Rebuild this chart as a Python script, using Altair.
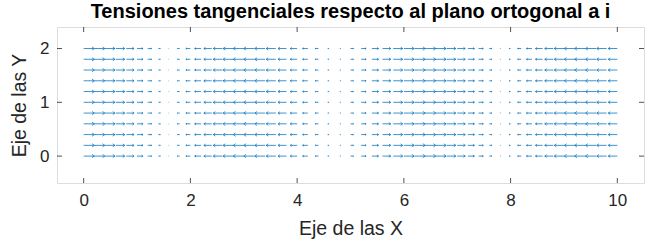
import altair as alt
import pandas as pd

# Grid of quiver tails (x columns, y rows)
x_vals = [0.0, 0.2, 0.4, 0.6, 0.8, 1.0, 1.2, 1.4, 1.6, 1.8,
          2.0, 2.2, 2.4, 2.6, 2.8, 3.0, 3.2, 3.4, 3.6, 3.8,
          4.0, 4.2, 4.4, 4.6, 4.8, 5.0, 5.2, 5.4, 5.6, 5.8,
          6.0, 6.2, 6.4, 6.6, 6.8, 7.0, 7.2, 7.4, 7.6, 7.8,
          8.0, 8.2, 8.4, 8.6, 8.8, 9.0, 9.2, 9.4, 9.6, 9.8, 10.0]
y_vals = [0.0, 0.2, 0.4, 0.6, 0.8, 1.0, 1.2, 1.4, 1.6, 1.8, 2.0]
# horizontal component of each arrow per column
u_vals = [1.00, 0.98, 0.93, 0.85, 0.72, 0.56, 0.37, 0.18, -0.03, -0.22,
          -0.42, -0.60, -0.74, -0.86, -0.94, -0.99, -1.00, -0.97, -0.90, -0.79,
          -0.65, -0.49, -0.31, -0.12, 0.08, 0.28, 0.46, 0.63, 0.77, 0.89,
          0.96, 1.00, 0.99, 0.95, 0.87, 0.75, 0.61, 0.44, 0.25, 0.05,
          -0.15, -0.34, -0.52, -0.67, -0.80, -0.91, -0.97, -1.00, -0.98, -0.93, -0.85]
x_ticks = [0, 2, 4, 6, 8, 10]
y_ticks = [0, 1, 2]

title_text = "Tensiones tangenciales respecto al plano ortogonal a i"
x_title = "Eje de las X"
y_title = "Eje de las Y"

SCALE = 0.2  # quiver autoscale factor (data units per unit magnitude)

rows = []
for yv in y_vals:
    for xv, uv in zip(x_vals, u_vals):
        rows.append({"x": xv, "y": yv, "xe": xv + uv * SCALE,
                     "mag": abs(uv), "ang": 0 if uv >= 0 else 180})
df = pd.DataFrame(rows)
tx = pd.DataFrame({"t": x_ticks})
ty = pd.DataFrame({"t": y_ticks})

W, H = 587, 156
FONT = "Liberation Sans"
xs = alt.Scale(domain=[-0.5, 10.5], nice=False, zero=False)
ys = alt.Scale(domain=[-0.5, 2.4], nice=False, zero=False)
ax_x = alt.Axis(values=x_ticks, grid=False, tickSize=0, domain=False, labelPadding=9,
                titlePadding=11, labelFontSize=17, titleFontSize=19.5, labelColor="#262626",
                titleColor="#262626", labelFont=FONT, titleFont=FONT, titleFontWeight="normal")
ax_y = alt.Axis(values=y_ticks, grid=False, tickSize=0, domain=False, labelPadding=8,
                titlePadding=10, labelFontSize=17, titleFontSize=19.5, labelColor="#262626",
                titleColor="#262626", labelFont=FONT, titleFont=FONT, titleFontWeight="normal")

def X(f):
    return alt.X(f, type="quantitative", scale=xs, axis=ax_x, title=x_title)

def Y(f):
    return alt.Y(f, type="quantitative", scale=ys, axis=ax_y, title=y_title)

blue = "#0072BD"
shafts = alt.Chart(df).mark_rule(color=blue, strokeWidth=0.9, opacity=0.85).encode(
    x=X("x"), x2="xe", y=Y("y"))
heads = alt.Chart(df).mark_point(
    shape="M-1,-0.7L0,0L-1,0.7", filled=False, color=blue, strokeWidth=0.8, opacity=0.9
).encode(
    x=X("xe"), y=Y("y"),
    size=alt.Size("mag:Q", scale=alt.Scale(type="pow", exponent=2, domain=[0, 1], range=[0, 22]), legend=None),
    angle=alt.Angle("ang:Q", scale=None),
)
tc = "#262626"
tick_b = alt.Chart(tx).mark_rule(color=tc, strokeWidth=0.8).encode(
    x=X("t"), y=alt.value(H), y2=alt.value(H - 5))
tick_t = alt.Chart(tx).mark_rule(color=tc, strokeWidth=0.8).encode(
    x=X("t"), y=alt.value(0), y2=alt.value(5))
tick_l = alt.Chart(ty).mark_rule(color=tc, strokeWidth=0.8).encode(
    y=Y("t"), x=alt.value(0), x2=alt.value(5))
tick_r = alt.Chart(ty).mark_rule(color=tc, strokeWidth=0.8).encode(
    y=Y("t"), x=alt.value(W), x2=alt.value(W - 5))

chart = alt.layer(shafts, heads, tick_b, tick_t, tick_l, tick_r).properties(
    width=W, height=H,
    title=alt.TitleParams(title_text, font=FONT, fontSize=20, fontWeight="bold",
                          color="black", offset=5, anchor="middle"),
    autosize=alt.AutoSizeParams(type="none"),
    padding={"left": 57, "top": 27, "right": 2, "bottom": 60},
).configure_view(stroke="#262626", strokeWidth=0.8).configure(background="white")

chart.save("out.html", embed_options={"renderer": "svg", "actions": False})
